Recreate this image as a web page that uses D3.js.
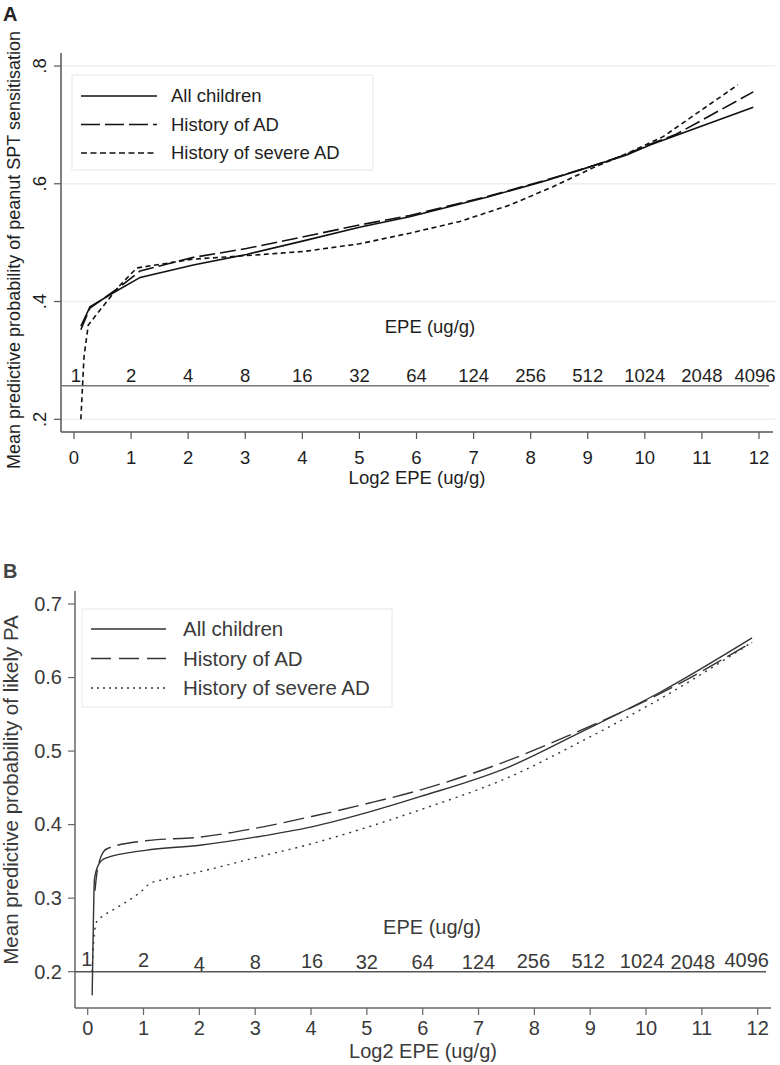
<!DOCTYPE html>
<html><head><meta charset="utf-8">
<script src="https://cdn.jsdelivr.net/npm/d3@7"></script>
<style>body{margin:0;background:#fff}svg{display:block;font-family:"Liberation Sans",Arial,sans-serif}</style>
</head><body>
<svg id="c" width="780" height="1065"></svg>
<script>
// ---------- DATA ----------
const xTicks = [0,1,2,3,4,5,6,7,8,9,10,11,12];
const epeLabels = ["1","2","4","8","16","32","64","124","256","512","1024","2048","4096"];
const seriesNames = ["All children","History of AD","History of severe AD"];

// Panel A: peanut SPT sensitisation  [log2 EPE, probability]
const sptAll = [[0.12,0.358],[0.28,0.391],[0.69,0.415],[1.16,0.441],[2.09,0.462],[3.02,0.480],[4.02,0.503],[5.0,0.526],[5.88,0.544],[7.23,0.577],[8.22,0.604],[8.98,0.627],[9.68,0.649],[10.09,0.666],[11.0,0.698],[11.9,0.730]];
const sptAD = [[0.12,0.352],[0.28,0.389],[0.78,0.423],[1.16,0.452],[2.09,0.475],[3.02,0.490],[4.02,0.510],[5.0,0.530],[5.88,0.546],[7.23,0.578],[8.22,0.605],[8.98,0.627],[9.68,0.650],[10.09,0.667],[10.55,0.684],[11.9,0.756]];
const sptSevere = [[0.12,0.200],[0.175,0.306],[0.25,0.360],[0.46,0.386],[0.78,0.425],[1.10,0.457],[2.09,0.472],[3.02,0.478],[4.02,0.485],[5.0,0.498],[5.88,0.516],[6.76,0.536],[7.64,0.564],[8.39,0.595],[9.09,0.627],[9.68,0.651],[10.32,0.680],[11.63,0.768]];
const yTicksA = [0.2,0.4,0.6,0.8];
const yTickLabelsA = [".2",".4",".6",".8"];
const epeLineA = 0.257;

// Panel B: likely peanut allergy
const paAll = [[0.08,0.168],[0.10,0.26],[0.12,0.325],[0.19,0.345],[0.31,0.354],[1.03,0.365],[2.01,0.372],[3.0,0.383],[4.01,0.397],[5.03,0.417],[5.95,0.438],[7.56,0.479],[8.76,0.523],[10.25,0.580],[11.9,0.654]];
const paAD = [[0.13,0.31],[0.16,0.331],[0.28,0.363],[0.37,0.368],[1.03,0.378],[2.01,0.383],[3.0,0.395],[4.01,0.411],[5.03,0.429],[5.95,0.447],[7.56,0.488],[8.76,0.526],[10.25,0.578],[11.9,0.648]];
const paSevere = [[0.08,0.20],[0.10,0.234],[0.16,0.268],[0.28,0.276],[0.52,0.287],[0.94,0.308],[1.12,0.320],[1.41,0.326],[2.01,0.336],[3.0,0.355],[4.01,0.374],[5.03,0.397],[5.95,0.420],[7.56,0.465],[8.76,0.510],[10.25,0.571],[11.9,0.648]];
const yTicksB = [0.2,0.3,0.4,0.5,0.6,0.7];
const epeLineB = 0.2;

// ---------- DRAW ----------
const svg = d3.select("#c");

function panel(o){
  const g = svg.append("g");
  const x = d3.scaleLinear().domain([0,12]).range(o.xr);
  const y = d3.scaleLinear().domain(o.yd).range(o.yr);
  if(o.grid){
    g.selectAll("line.grid").data(o.yTicks).join("line")
      .attr("x1",o.axL).attr("x2",o.gridR).attr("y1",d=>y(d)).attr("y2",d=>y(d))
      .attr("stroke","#efefef").attr("stroke-width",1.5);
  }
  g.append("line").attr("x1",o.axL).attr("x2",o.axL).attr("y1",o.axT).attr("y2",o.axB).attr("stroke",o.axc).attr("stroke-width",1.5);
  g.append("line").attr("x1",o.axL).attr("x2",o.axR).attr("y1",o.axB).attr("y2",o.axB).attr("stroke",o.axc).attr("stroke-width",1.5);
  g.selectAll("line.yt").data(o.yTicks).join("line")
    .attr("x1",o.axL-7).attr("x2",o.axL).attr("y1",d=>y(d)).attr("y2",d=>y(d)).attr("stroke",o.axc).attr("stroke-width",1.2);
  if(o.rotY){
    g.selectAll("text.yl").data(o.yTicks).join("text")
      .attr("transform",d=>`translate(${o.axL-15},${y(d)}) rotate(-90)`)
      .attr("text-anchor","middle").attr("font-size",o.fs).attr("fill",o.tc)
      .text((d,i)=>o.yLabels[i]);
  } else {
    g.selectAll("text.yl").data(o.yTicks).join("text")
      .attr("x",o.axL-13).attr("y",d=>y(d)).attr("dy","0.34em")
      .attr("text-anchor","end").attr("font-size",o.fs).attr("fill",o.tc)
      .text(d=>d3.format(".1f")(d));
  }
  g.selectAll("line.xt").data(xTicks).join("line")
    .attr("x1",d=>x(d)).attr("x2",d=>x(d)).attr("y1",o.axB).attr("y2",o.axB+7).attr("stroke",o.axc).attr("stroke-width",1.2);
  g.selectAll("text.xl").data(xTicks).join("text")
    .attr("x",d=>x(d)).attr("y",o.xlY).attr("text-anchor","middle")
    .attr("font-size",o.fs).attr("fill",o.tc).text(d=>d);
  g.append("text").attr("x",(o.axL+o.axR)/2).attr("y",o.xtY).attr("text-anchor","middle")
    .attr("font-size",o.fs).attr("fill",o.tc).text("Log2 EPE (ug/g)");
  g.append("text").attr("transform",`translate(${o.ytX},${o.ytY}) rotate(-90)`)
    .attr("text-anchor","middle").attr("font-size",o.yfs).attr("fill",o.tc).text(o.ytitle);
  g.append("line").attr("x1",o.axL).attr("x2",o.epeR).attr("y1",y(o.epeLine)).attr("y2",y(o.epeLine))
    .attr("stroke",o.epec).attr("stroke-width",1.4);
  g.selectAll("text.epe").data(epeLabels).join("text")
    .attr("x",(d,i)=>x(xTicks[i])+(o.epeDx[i]||0)).attr("y",(d,i)=>y(o.epeLine)-o.epeOff+(o.epeDy?o.epeDy[i]:0))
    .attr("text-anchor","middle").attr("font-size",o.fs).attr("fill",o.tc).text(d=>d);
  g.append("text").attr("x",o.epeTX).attr("y",o.epeTY).attr("text-anchor","middle")
    .attr("font-size",o.fs).attr("fill",o.tc).text("EPE (ug/g)");
  const line = d3.line().x(d=>x(d[0])).y(d=>y(d[1])).curve(o.curve);
  o.series.forEach((s,i)=>{
    g.append("path").datum(s).attr("d",line).attr("fill","none")
      .attr("stroke",o.lc).attr("stroke-width",o.lw)
      .attr("stroke-dasharray",o.dash[i]);
  });
  const L = o.leg;
  g.append("rect").attr("x",L.x).attr("y",L.y).attr("width",L.w).attr("height",L.h)
    .attr("fill","#fff").attr("stroke","#ececec").attr("stroke-width",1.2);
  seriesNames.forEach((n,i)=>{
    const yy = L.y0 + i*L.dy;
    g.append("line").attr("x1",L.lx1).attr("x2",L.lx2).attr("y1",yy).attr("y2",yy)
      .attr("stroke",o.lc).attr("stroke-width",o.lw).attr("stroke-dasharray",o.legDash[i]);
    g.append("text").attr("x",L.tx).attr("y",yy).attr("dy","0.35em")
      .attr("font-size",L.fs).attr("fill",o.tc).text(n);
  });
  svg.append("text").attr("x",o.letX).attr("y",o.letY).attr("font-size",20).attr("font-weight","bold")
    .attr("fill",o.letc).text(o.letter);
}

panel({
  letter:"A", letX:3, letY:21, letc:"#222",
  xr:[74,759], yd:[0.2,0.8], yr:[419.3,66],
  axL:61, axR:773, axT:53, axB:432, gridR:775, grid:true, axc:"#555",
  yTicks:yTicksA, yLabels:yTickLabelsA, rotY:true,
  fs:18.5, yfs:18, tc:"#1e1e1e",
  xlY:464, xtY:484, ytX:20, ytY:250,
  ytitle:"Mean predictive probability of peanut SPT sensitisation",
  epeLine:epeLineA, epeR:769, epec:"#777", epeOff:4,
  epeDx:[2,0,0,0,0,0,0,0,0,0,0,0,-4],
  epeTX:430, epeTY:333,
  series:[sptAll,sptAD,sptSevere], curve:d3.curveLinear, lc:"#111", lw:1.6,
  dash:[null,"16,5","5,3.5"], legDash:[null,"19,5","6,3.5"],
  leg:{x:72,y:75,w:301,h:95,y0:96,dy:28.5,lx1:81,lx2:157,tx:171,fs:18.5}
});

panel({
  letter:"B", letX:3, letY:578, letc:"#444",
  xr:[87.7,757.7], yd:[0.2,0.7], yr:[971.7,604],
  axL:75, axR:771, axT:591, axB:1008, gridR:771, grid:false, axc:"#666",
  yTicks:yTicksB, rotY:false,
  fs:20, yfs:20.5, tc:"#3a3a3a",
  xlY:1035, xtY:1058, ytX:18, ytY:790,
  ytitle:"Mean predictive probability of likely PA",
  epeLine:epeLineB, epeR:766, epec:"#555", epeOff:4,
  epeDx:[-1,0,0,0,1,0,0,0,-1,-2,-4,-9,-11],
  epeDy:[-2,-1,3,1,0,1,1,1,0,0,0,1,-1],
  epeTX:432, epeTY:934,
  series:[paAll,paAD,paSevere], curve:d3.curveMonotoneX, lc:"#333", lw:1.4,
  dash:[null,"21,7","2,5"], legDash:[null,"20,8","2,4"],
  leg:{x:82,y:609,w:310,h:98,y0:629,dy:29.5,lx1:91,lx2:166,tx:183,fs:20.5}
});
</script>
</body></html>
